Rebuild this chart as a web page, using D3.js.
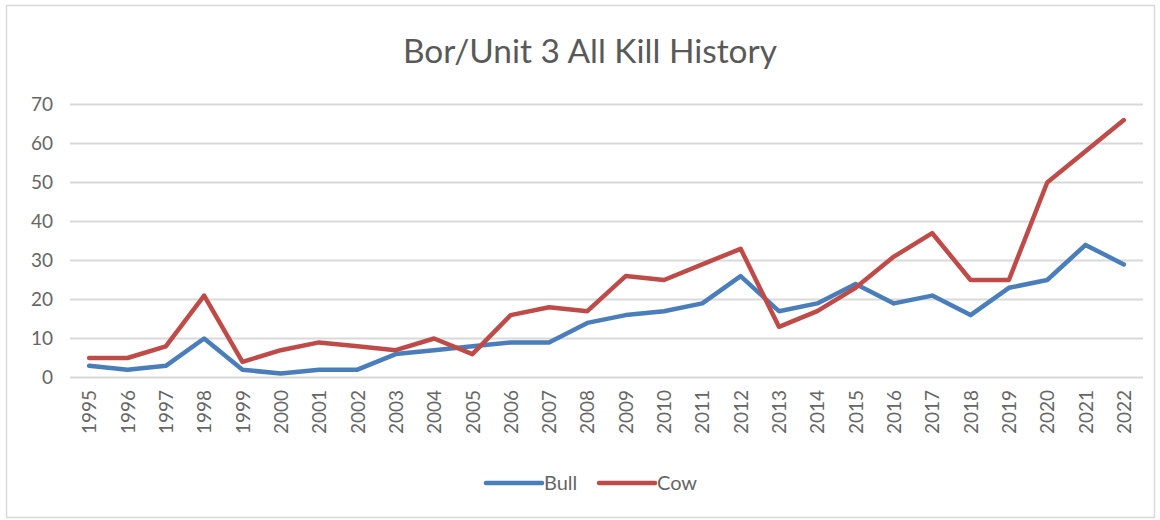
<!DOCTYPE html>
<html>
<head>
<meta charset="utf-8">
<script src="https://cdn.jsdelivr.net/npm/d3@7"></script>
<style>
  html, body { margin: 0; padding: 0; background: #fff; }
  svg { display: block; }
  text { font-family: Lato, "Open Sans", sans-serif; }
</style>
</head>
<body>
<div id="chart"></div>
<script>
// Kill counts by year for Bor/Unit 3
const years = ["1995","1996","1997","1998","1999","2000","2001","2002","2003","2004",
  "2005","2006","2007","2008","2009","2010","2011","2012","2013","2014",
  "2015","2016","2017","2018","2019","2020","2021","2022"];
const bull = [3, 2, 3, 10, 2, 1, 2, 2, 6, 7, 8, 9, 9, 14, 16, 17, 19, 26, 17, 19,
  24, 19, 21, 16, 23, 25, 34, 29];
const cow = [5, 5, 8, 21, 4, 7, 9, 8, 7, 10, 6, 16, 18, 17, 26, 25, 29, 33, 13, 17,
  23, 31, 37, 25, 25, 50, 58, 66];
const yTicks = [0, 10, 20, 30, 40, 50, 60, 70];
const seriesNames = ["Bull", "Cow"];
const seriesColors = ["#4a7ebb", "#be4b48"];

const W = 1160, H = 520;
const svg = d3.select("#chart").append("svg").attr("width", W).attr("height", H);

// chart area frame
svg.append("rect")
  .attr("x", 6.5).attr("y", 5.5).attr("width", 1148).attr("height", 512)
  .attr("fill", "#fff").attr("stroke", "#d9d9d9").attr("stroke-width", 1.5);

svg.append("text")
  .attr("x", 590).attr("y", 63)
  .attr("text-anchor", "middle")
  .attr("font-size", 32)
  .attr("fill", "#595959")
  .attr("textLength", 374).attr("lengthAdjust", "spacingAndGlyphs")
  .text("Bor/Unit 3 All Kill History");

const x = d3.scalePoint().domain(years).range([70, 1143]).padding(0.5);
const y = d3.scaleLinear().domain([0, 70]).range([377.5, 104.5]);

// horizontal gridlines
svg.append("g").selectAll("line").data(yTicks).join("line")
  .attr("x1", 70).attr("x2", 1143)
  .attr("y1", d => y(d)).attr("y2", d => y(d))
  .attr("stroke", "#d9d9d9").attr("stroke-width", 2);

// y axis labels
const yAxis = d3.axisLeft(y).tickValues(yTicks).tickSize(0).tickPadding(0);
svg.append("g").attr("transform", "translate(53,0)").call(yAxis)
  .call(g => g.select(".domain").remove())
  .call(g => g.selectAll("text")
    .attr("font-size", 19).attr("fill", "#666").attr("font-family", "Lato, sans-serif"));

// x axis labels, rotated
const xAxis = d3.axisBottom(x).tickSize(0).tickPadding(0);
svg.append("g").attr("transform", "translate(0,390)").call(xAxis)
  .call(g => g.select(".domain").remove())
  .call(g => g.selectAll("text")
    .attr("font-size", 19).attr("fill", "#666").attr("font-family", "Lato, sans-serif")
    .attr("text-anchor", "end")
    .attr("transform", "rotate(-90)")
    .attr("x", 0).attr("y", 0).attr("dy", "0.35em"));

// series lines
const line = d3.line().x((d, i) => x(years[i])).y(d => y(d));
[bull, cow].forEach((vals, k) => {
  svg.append("path")
    .datum(vals)
    .attr("d", line)
    .attr("fill", "none")
    .attr("stroke", seriesColors[k])
    .attr("stroke-width", 4.5)
    .attr("stroke-linejoin", "round")
    .attr("stroke-linecap", "round");
});

// legend
const legendX = [486, 599];
seriesNames.forEach((name, k) => {
  const g = svg.append("g").attr("transform", `translate(${legendX[k]},483)`);
  g.append("line").attr("x1", 0).attr("x2", 56).attr("y1", 0).attr("y2", 0)
    .attr("stroke", seriesColors[k]).attr("stroke-width", 4.5).attr("stroke-linecap", "round");
  g.append("text").attr("x", 58).attr("y", 0).attr("dy", "0.35em")
    .attr("font-size", 20).attr("fill", "#666").text(name);
});
</script>
</body>
</html>
